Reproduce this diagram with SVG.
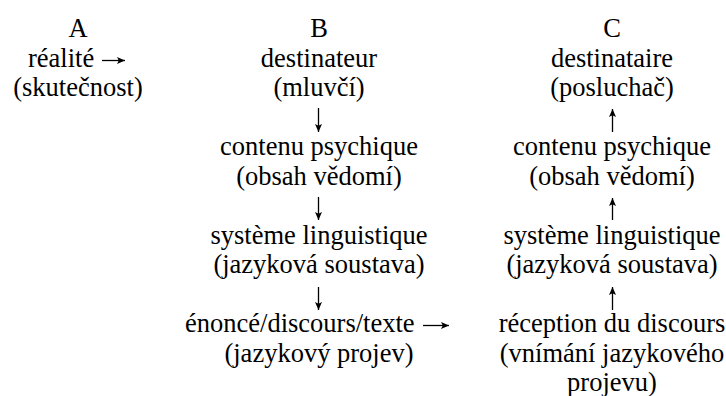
<svg xmlns="http://www.w3.org/2000/svg" width="726" height="396" viewBox="0 0 726 396">
<defs>
<marker id="ah" markerUnits="userSpaceOnUse" markerWidth="10" markerHeight="10" refX="8" refY="4" orient="auto" viewBox="0 0 10 8">
<path d="M0,0.5 L8,4 L0,7.5 L1.8,4 Z" fill="#000"/>
</marker>
</defs>
<style>
.t{font-family:'Liberation Serif','Times New Roman',serif;font-size:26.5px;fill:#000;text-anchor:middle}
.s{text-anchor:start}
.c{fill:none;stroke:#000;stroke-width:1.3;marker-end:url(#ah)}
</style>
<rect width="726" height="396" fill="#fff"/>
<g id="colA">
<g id="A-head"><text class="t" x="78" y="37">A</text></g>
<g id="A-realite"><text class="t s" x="28" y="67">réalité</text><text class="t" x="78" y="96">(skutečnost)</text></g>
</g>
<g id="colB">
<g id="B-head"><text class="t" x="319" y="37">B</text></g>
<g id="B-destinateur"><text class="t" x="319" y="67">destinateur</text><text class="t" x="319" y="96">(mluvčí)</text></g>
<g id="B-contenu"><text class="t" x="319" y="155">contenu psychique</text><text class="t" x="319" y="185">(obsah vědomí)</text></g>
<g id="B-systeme"><text class="t" x="319" y="244">système linguistique</text><text class="t" x="319" y="273">(jazyková soustava)</text></g>
<g id="B-enonce"><text class="t s" x="185" y="332">énoncé/discours/texte</text><text class="t" x="319" y="362">(jazykový projev)</text></g>
</g>
<g id="colC">
<g id="C-head"><text class="t" x="612" y="37">C</text></g>
<g id="C-destinataire"><text class="t" x="612" y="67">destinataire</text><text class="t" x="612" y="96">(posluchač)</text></g>
<g id="C-contenu"><text class="t" x="612" y="155">contenu psychique</text><text class="t" x="612" y="185">(obsah vědomí)</text></g>
<g id="C-systeme"><text class="t" x="612" y="244">système linguistique</text><text class="t" x="612" y="273">(jazyková soustava)</text></g>
<g id="C-reception"><text class="t" x="612" y="332">réception du discours</text><text class="t" x="612" y="362">(vnímání jazykového</text><text class="t" x="612" y="391">projevu)</text></g>
</g>
<g id="connectors">
<path class="c" d="M102,60.5 H125"/>
<path class="c" d="M423,325.5 H449"/>
<path class="c" d="M318.5,108 V132"/>
<path class="c" d="M318.5,197 V220"/>
<path class="c" d="M318.5,287 V310"/>
<path class="c" d="M612.5,132 V109"/>
<path class="c" d="M612.5,220 V198"/>
<path class="c" d="M612.5,310 V287"/>
</g>
</svg>
